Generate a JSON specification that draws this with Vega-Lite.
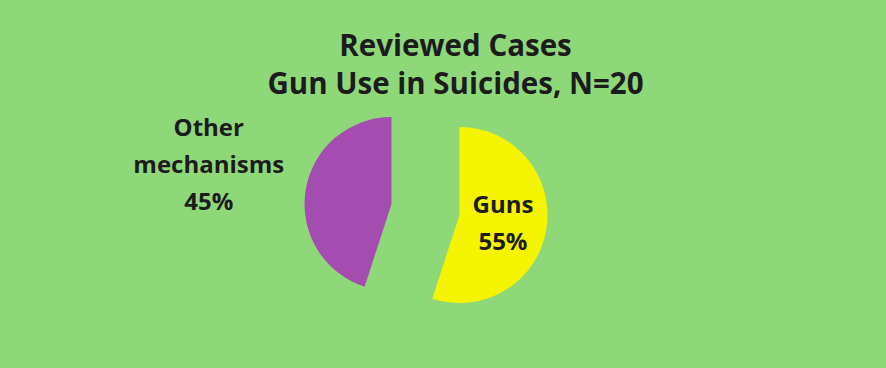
{
  "$schema": "https://vega.github.io/schema/vega-lite/v6.json",
  "width": 879,
  "height": 362,
  "autosize": {"type": "none"},
  "padding": {"top": 6, "left": 7, "right": 0, "bottom": 0},
  "background": "#8fd87a",
  "view": {"fill": "#8fd87a", "stroke": null},
  "config": {"view": {"fill": "#8fd87a", "stroke": null}, "font": "Open Sans"},
  "title": {
    "text": ["Reviewed Cases", "Gun Use in Suicides, N=20"],
    "font": "Open Sans",
    "fontSize": 29.5,
    "fontWeight": "bold",
    "color": "#1c1c1c",
    "lineHeight": 38,
    "anchor": "middle",
    "offset": -94,
    "dx": 9
  },
  "data": {
    "values": [
      {"category": "Guns", "count": 11, "label": "Guns\n55%"},
      {"category": "Other mechanisms", "count": 9, "label": "Other\nmechanisms\n45%"}
    ]
  },
  "encoding": {
    "theta": {"field": "count", "type": "quantitative", "stack": true},
    "detail": {"field": "category", "type": "nominal"}
  },
  "layer": [
    {
      "mark": {"type": "arc", "outerRadius": 88, "xOffset": 13, "yOffset": 28},
      "encoding": {
        "color": {"field": "category", "type": "nominal", "scale": {"domain": ["Guns", "Other mechanisms"], "range": ["#f6f500", "#a54cb0"]}, "legend": null},
        "opacity": {"condition": {"test": "datum.category === 'Guns'", "value": 1}, "value": 0}
      }
    },
    {
      "mark": {"type": "arc", "outerRadius": 87, "xOffset": -55, "yOffset": 17},
      "encoding": {
        "color": {"field": "category", "type": "nominal", "scale": {"domain": ["Guns", "Other mechanisms"], "range": ["#f6f500", "#a54cb0"]}, "legend": null},
        "opacity": {"condition": {"test": "datum.category !== 'Guns'", "value": 1}, "value": 0}
      }
    },
    {
      "mark": {"type": "text", "radius": 44, "xOffset": 13, "yOffset": 12, "lineBreak": "\n", "font": "Open Sans", "fontSize": 24, "fontWeight": "bold", "lineHeight": 37, "color": "#1c1c1c"},
      "encoding": {
        "text": {"condition": {"test": "datum.category === 'Guns'", "field": "label"}, "value": ""}
      }
    },
    {
      "mark": {"type": "text", "radius": 184, "xOffset": -56, "yOffset": -29, "lineBreak": "\n", "font": "Open Sans", "fontSize": 24, "fontWeight": "bold", "lineHeight": 37, "color": "#1c1c1c"},
      "encoding": {
        "text": {"condition": {"test": "datum.category !== 'Guns'", "field": "label"}, "value": ""}
      }
    }
  ]
}
